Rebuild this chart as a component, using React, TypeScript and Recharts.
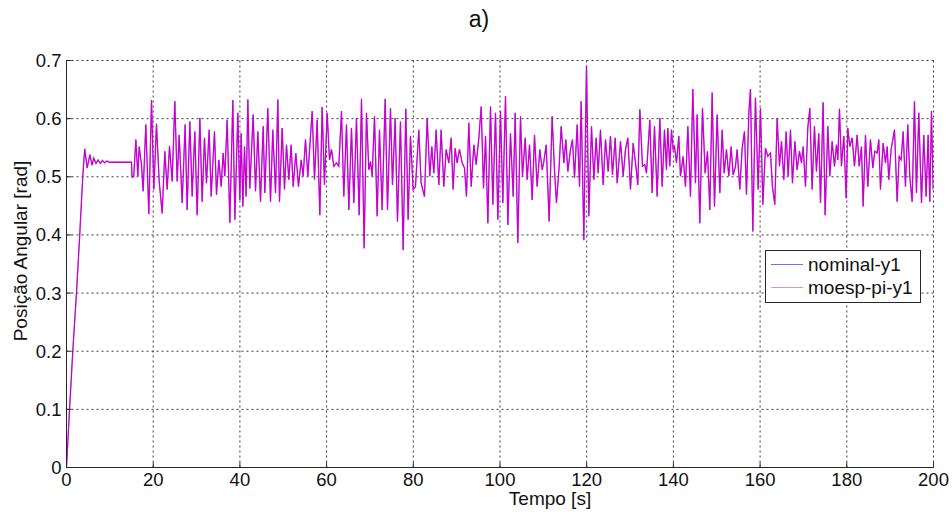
import React from 'react';
import { LineChart, Line, XAxis, YAxis, CartesianGrid, Legend } from 'recharts';

// ---- axis ticks ----
const xTicks = [0, 20, 40, 60, 80, 100, 120, 140, 160, 180, 200];
const yTicks = [0, 0.1, 0.2, 0.3, 0.4, 0.5, 0.6, 0.7];

// ---- moesp-pi-y1 response, [time s, angle rad] ----
const startup: [number, number][] = [
  [0, 0], [0.7, 0.1], [1.45, 0.2], [2.3, 0.3], [3.05, 0.4], [3.75, 0.5], [4.2, 0.548],
  [4.77, 0.515], [5.38, 0.538], [5.9, 0.52], [6.3, 0.532], [6.8, 0.523], [7.3, 0.529],
  [7.8, 0.523], [8.3, 0.528], [8.8, 0.524], [9.3, 0.527], [9.9, 0.525], [15.0, 0.525],
  [15.1, 0.5], [15.5, 0.5],
];

const segA: [number, number][] = [
  [16.0, .564], [16.46, .501], [16.76, .552], [17.3, .521], [17.68, .475], [18.3, .590], [18.99, .436],
  [19.61, .632], [20.15, .478], [20.76, .591], [21.38, .492], [22.07, .437], [22.68, .544], [23.22, .478],
  [23.76, .553], [24.37, .492], [24.99, .630], [25.53, .492], [25.99, .572], [26.68, .455], [27.37, .590],
  [27.83, .443], [28.45, .595], [28.99, .466], [29.6, .578], [30.14, .434], [30.76, .601], [31.29, .457],
  [31.83, .567], [32.29, .489], [32.91, .581], [33.37, .466], [34.14, .578], [34.6, .469], [35.14, .529],
  [35.68, .483], [36.14, .541], [36.52, .501], [37.06, .598], [37.68, .421], [38.37, .632], [38.83, .426],
  [39.52, .610], [39.98, .460], [40.29, .575], [40.68, .449], [41.06, .552], [41.44, .466], [41.83, .633],
  [42.29, .480], [43.06, .607], [43.6, .475], [44.14, .578], [44.75, .457], [45.37, .587], [45.75, .472],
  [46.44, .618], [47.06, .457], [47.59, .581], [48.21, .472], [48.75, .633],
];

const segB: [number, number][] = [
  [49.13, .457], [49.75, .584], [50.29, .478], [50.75, .555], [51.29, .495], [51.82, .555], [52.29, .483],
  [52.9, .541], [53.52, .483], [54.13, .529], [54.59, .501], [55.13, .564], [55.67, .501], [56.28, .570],
  [56.67, .613], [57.21, .495], [57.82, .598], [58.44, .434], [58.97, .620], [59.51, .486], [60.13, .610],
  [60.67, .529], [61.13, .547], [61.67, .518], [62.28, .524], [62.82, .518], [63.43, .613], [63.97, .466],
  [64.59, .590], [65.13, .443], [65.74, .584], [66.28, .455], [66.89, .601], [67.51, .434], [68.05, .634],
  [68.66, .377], [69.2, .610], [69.74, .512], [70.12, .526], [70.51, .501], [71.05, .604], [71.66, .432],
  [72.2, .581], [72.81, .443], [73.51, .634], [74.05, .443], [74.74, .618], [75.2, .486], [75.81, .601],
  [76.35, .423], [77.04, .595], [77.66, .374], [78.27, .617], [78.81, .426], [79.35, .570], [79.97, .478],
  [80.5, .483], [81.27, .581], [81.81, .489], [82.58, .466], [83.2, .601], [83.81, .501], [84.27, .552],
  [84.73, .506], [85.27, .581], [85.89, .486], [86.42, .581], [87.04, .483], [87.58, .547], [88.19, .524],
  [88.73, .567], [89.19, .478], [89.65, .549], [90.11, .524], [90.65, .547], [91.27, .524],
];

const segC: [number, number][] = [
  [91.81, .515], [92.27, .466], [92.81, .593], [93.35, .483], [93.97, .555], [94.5, .521], [95.12, .567],
  [95.66, .621], [96.2, .480], [96.66, .570], [97.2, .420], [97.81, .621], [98.35, .452], [98.96, .610],
  [99.5, .426], [100.12, .613], [100.65, .455], [101.27, .639], [101.81, .417], [102.42, .575], [103.04, .466],
  [103.5, .610], [104.11, .386], [104.73, .604], [105.19, .501], [105.81, .567], [106.27, .495], [106.81, .555],
  [107.42, .460], [107.96, .572], [108.57, .483], [109.19, .547], [109.73, .512], [110.11, .526], [110.65, .555],
  [111.34, .423], [112.03, .604], [112.57, .512], [113.03, .455], [113.65, .518], [114.11, .587], [114.73, .524],
  [115.19, .564], [115.65, .509], [116.26, .547], [116.72, .564], [117.19, .498], [117.8, .590], [118.34, .483],
  [118.72, .630], [119.34, .391], [119.95, .691], [120.49, .432], [121.11, .587], [121.65, .495], [122.18, .567],
  [122.65, .506], [123.18, .581], [123.8, .486], [124.34, .564], [124.95, .509], [125.49, .570], [125.95, .503],
  [126.57, .567], [127.03, .489], [127.8, .561], [128.41, .501], [128.95, .547], [129.49, .567], [130.1, .478],
  [130.72, .558], [131.26, .524], [131.79, .486], [132.26, .616], [132.87, .518], [133.41, .521], [133.79, .506],
  [134.56, .598], [135.1, .472], [135.64, .587], [136.25, .466], [136.87, .601], [137.41, .483],
];

const segD: [number, number][] = [
  [137.94, .581], [138.4, .512], [138.71, .584], [139.17, .518], [139.56, .581], [139.94, .547], [140.25, .552],
  [140.71, .524], [141.25, .570], [141.63, .501], [142.25, .535], [142.79, .483], [143.33, .587], [143.94, .466],
  [144.48, .651], [145.09, .489], [145.48, .607], [146.09, .420], [146.71, .618], [147.32, .506], [147.86, .544],
  [148.4, .443], [148.94, .645], [149.48, .449], [150.09, .607], [150.71, .472], [151.24, .581], [151.71, .506],
  [152.24, .547], [152.78, .501], [153.32, .552], [153.78, .503], [154.32, .518], [154.7, .547], [155.32, .478],
  [155.86, .549], [156.4, .578], [156.86, .469], [157.4, .610], [157.78, .651], [158.32, .406], [158.93, .636],
  [159.55, .478], [160.09, .618], [160.63, .452], [161.24, .549], [161.78, .535], [162.39, .541], [162.85, .483],
  [163.39, .452], [163.93, .601], [164.47, .518], [164.93, .561], [165.47, .495], [166.01, .578], [166.47, .501],
  [167.01, .581], [167.47, .489], [168.01, .561], [168.54, .512], [169.08, .544], [169.54, .524], [169.93, .552],
  [170.47, .483], [171.0, .584], [171.47, .618], [172.0, .478], [172.54, .587], [173.0, .509], [173.54, .575],
  [173.93, .455], [174.54, .628], [175.0, .434], [175.62, .587], [176.08, .501], [176.62, .561], [177.16, .518],
  [177.62, .555], [177.93, .529], [178.31, .617], [178.77, .518], [179.31, .570], [179.85, .463], [180.23, .584],
  [180.69, .552], [181.23, .567], [181.77, .518], [182.39, .572], [182.85, .518], [183.38, .552], [183.77, .449],
  [184.31, .572], [184.85, .483], [185.46, .564], [186.0, .515], [186.46, .544], [187.0, .541], [187.38, .564],
  [187.77, .478], [188.38, .558], [188.92, .524], [189.31, .552], [189.69, .495], [190.23, .547], [191.0, .581],
  [191.61, .457], [192.07, .535], [192.53, .529], [193.0, .578], [193.53, .483], [194.07, .590], [194.53, .501],
  [195.07, .457], [195.61, .630], [196.07, .472], [196.61, .610], [197.23, .455], [197.76, .572], [198.3, .466],
  [198.76, .572], [199.15, .457], [199.53, .613], [199.92, .478],
];

const moespY1: [number, number][] = [...startup, ...segA, ...segB, ...segC, ...segD];
// the nominal response lies underneath the identified one in the picture
const nominalY1: [number, number][] = moespY1;

const data = moespY1.map(([t, v], i) => ({ t, moesp: v, nominal: nominalY1[i][1] }));

const FONT = '"Liberation Sans", Arial, sans-serif';

const renderLegend = () => (
  <svg width={156} height={53} style={{ display: 'block' }}>
    <rect x={0.5} y={0.5} width={155} height={52} fill="#ffffff" stroke="#262626" strokeWidth={1} />
    <line x1={6} x2={38} y1={14.5} y2={14.5} stroke="#6f6fff" strokeWidth={1} />
    <text x={43} y={20.5} fontSize={19} fill="#111" fontFamily={FONT}>nominal-y1</text>
    <line x1={6} x2={38} y1={37.5} y2={37.5} stroke="#e58ae5" strokeWidth={1} />
    <text x={43} y={43.5} fontSize={19} fill="#111" fontFamily={FONT}>moesp-pi-y1</text>
  </svg>
);

export default function App() {
  return (
    <div
      style={{
        position: 'absolute',
        left: 0,
        top: 0,
        width: 952,
        height: 515,
        background: '#ffffff',
        fontFamily: FONT,
      }}
    >
      <div
        style={{
          position: 'absolute',
          left: 429,
          top: 8,
          width: 100,
          textAlign: 'center',
          fontSize: 23,
          lineHeight: '23px',
          color: '#111',
        }}
      >
        a)
      </div>
      <LineChart
        width={952}
        height={515}
        data={data}
        margin={{ top: 60.5, right: 18.5, bottom: 17.5, left: 6.5 }}
      >
        <CartesianGrid stroke="#3a3a3a" strokeDasharray="2 3" strokeWidth={1} />
        <XAxis
          dataKey="t"
          type="number"
          domain={[0, 200]}
          ticks={xTicks}
          interval={0}
          height={30}
          stroke="#262626"
          tickSize={-5}
          tickMargin={10.5}
          tick={{ fill: '#111', fontSize: 18.5 }}
          allowDataOverflow
          label={{
            content: () => (
              <text x={550} y={505} textAnchor="middle" fontSize={19} fill="#111">
                Tempo [s]
              </text>
            ),
          }}
        />
        <YAxis
          type="number"
          domain={[0, 0.7]}
          ticks={yTicks}
          interval={0}
          width={60}
          stroke="#262626"
          tickSize={-5}
          tickMargin={10}
          tick={{ fill: '#111', fontSize: 18.5 }}
          allowDataOverflow
          label={{
            content: () => (
              <text
                x={27}
                y={251}
                transform="rotate(-90 27 251)"
                textAnchor="middle"
                fontSize={19}
                fill="#111"
              >
                Posição Angular [rad]
              </text>
            ),
          }}
        />
        <Legend
          layout="horizontal"
          verticalAlign="middle"
          align="center"
          content={renderLegend}
          wrapperStyle={{ position: 'absolute', left: 765, top: 250, width: 156, height: 53, margin: 0, padding: 0 }}
        />
        <Line
          type="linear"
          dataKey="nominal"
          name="nominal-y1"
          stroke="#0000ff"
          strokeWidth={0.4}
          dot={false}
          isAnimationActive={false}
        />
        <Line
          type="linear"
          dataKey="moesp"
          name="moesp-pi-y1"
          stroke="#cc00cc"
          strokeWidth={1.3}
          dot={false}
          isAnimationActive={false}
        />
      </LineChart>
    </div>
  );
}
